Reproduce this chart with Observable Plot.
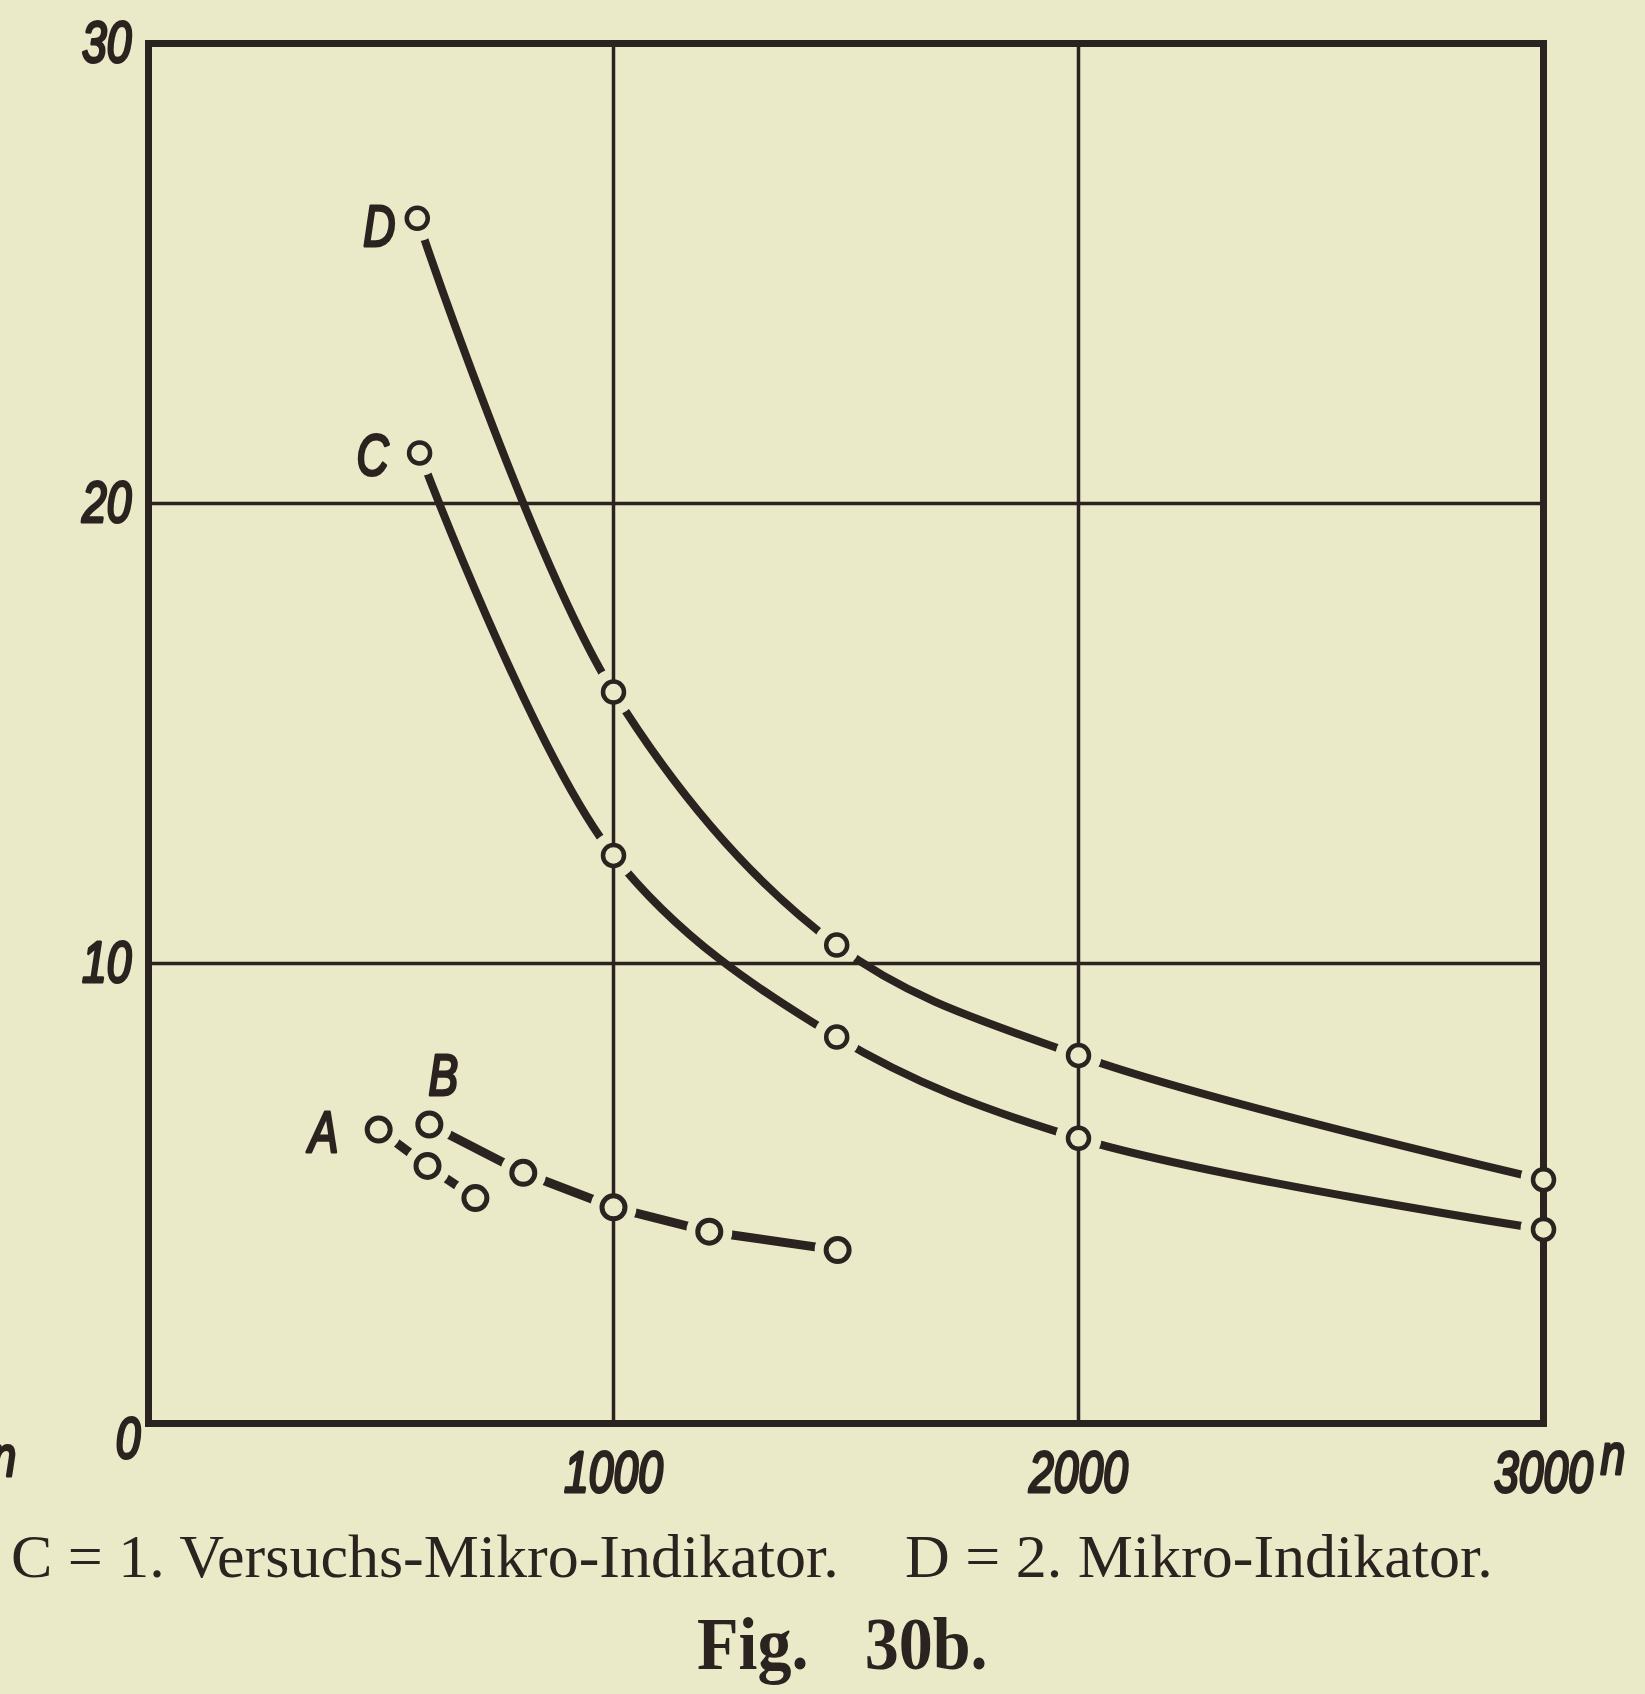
<!DOCTYPE html>
<html>
<head>
<meta charset="utf-8">
<script src="https://cdn.jsdelivr.net/npm/d3@7"></script>
<script src="https://cdn.jsdelivr.net/npm/@observablehq/plot@0.6"></script>
<style>
  html, body { margin: 0; padding: 0; background: #eae9c8; }
  #page { position: relative; width: 1645px; height: 1694px; overflow: hidden; background: #eae9c8; }
  #page svg { position: absolute; left: 0; top: 0; }
  .cap { position: absolute; font-family: "Liberation Serif", "DejaVu Serif", serif; color: #2b231f; line-height: 1; white-space: pre; }
  .cap1 { font-size: 62px; top: 1525px; }
  .cap2 { font-size: 74px; font-weight: bold; top: 1607px; left: 697px; word-spacing: 12px; transform: scaleX(0.92); transform-origin: 0 0; }
</style>
</head>
<body>
<div id="page"></div>
<script>
// Deflection against speed n for four indicators A–D
const seriesNames = ["A", "B", "C", "D"];
const nA = [495, 600, 703];
const vA = [6.39, 5.6, 4.9];
const nB = [604, 806, 1000, 1206, 1482];
const vB = [6.5, 5.45, 4.7, 4.17, 3.77];
const nC = [583, 1000, 1480, 2000, 3000];
const vC = [21.1, 12.35, 8.4, 6.2, 4.22];
const nD = [578, 1000, 1480, 2000, 3000];
const vD = [26.2, 15.9, 10.4, 8.0, 5.3];
const xTicks = [1000, 2000, 3000];
const yTicks = [10, 20, 30];
const xGrid = [1000, 2000];
const yGrid = [10, 20];
const xUnit = "n";
const captionLeft = "C = 1. Versuchs-Mikro-Indikator.";
const captionRight = "D = 2. Mikro-Indikator.";
const figTitle = "Fig.  30b.";

const ink = "#2b231f";
const paper = "#eae9c8";
const handFont = "'Liberation Sans', Arial, sans-serif";
const handSize = 57;

const table = [[nA, vA], [nB, vB], [nC, vC], [nD, vD]];
const rows = seriesNames.flatMap((s, i) =>
  table[i][0].map((n, j) => ({series: s, n, v: table[i][1][j], first: j === 0}))
);
const straight = rows.filter(d => d.series === "A" || d.series === "B");
const curved = rows.filter(d => d.series === "C" || d.series === "D");
const firstOf = s => rows.filter(d => d.first && d.series === s);

// pen-lettered labels: regular italic thickened with an outline in the same ink
const hand = {fill: ink, stroke: ink, strokeWidth: 3, fontSize: handSize, fontStyle: "italic", fontFamily: handFont};
const labelStyle = {x: "n", y: "v", text: "series", ...hand};
const axisStyle = {
  tickSize: 0, tickFormat: d => String(d), label: null,
  fill: ink, textStroke: ink, textStrokeWidth: 3,
  fontSize: handSize, fontStyle: "italic", fontFamily: handFont
};

const chart = Plot.plot({
  width: 1645,
  height: 1500,
  marginLeft: 148,
  marginRight: 102,
  marginTop: 43,
  marginBottom: 77,
  style: {background: "transparent", color: ink, overflow: "visible"},
  x: {domain: [0, 3000]},
  y: {domain: [0, 30]},
  marks: [
    // curves first, then paper halos open a gap around every reading
    Plot.line(straight, {x: "n", y: "v", z: "series", curve: "linear", stroke: ink, strokeWidth: 9, strokeLinecap: "round"}),
    Plot.line(curved, {x: "n", y: "v", z: "series", curve: "catmull-rom", stroke: ink, strokeWidth: 8, strokeLinecap: "round"}),
    Plot.dot(rows, {x: "n", y: "v", r: 23, fill: paper, stroke: "none"}),
    Plot.gridX(xGrid, {stroke: ink, strokeOpacity: 1, strokeWidth: 3.5}),
    Plot.gridY(yGrid, {stroke: ink, strokeOpacity: 1, strokeWidth: 3.5}),
    Plot.frame({stroke: ink, strokeWidth: 7}),
    Plot.dot(straight, {x: "n", y: "v", r: 11.5, fill: paper, stroke: ink, strokeWidth: 5}),
    Plot.dot(curved, {x: "n", y: "v", r: 10.5, fill: paper, stroke: ink, strokeWidth: 4.5}),
    Plot.text(firstOf("A"), {...labelStyle, dx: -55, dy: 4}),
    Plot.text(firstOf("B"), {...labelStyle, dx: 14, dy: -48}),
    Plot.text(firstOf("C"), {...labelStyle, dx: -47, dy: 4}),
    Plot.text(firstOf("D"), {...labelStyle, dx: -38, dy: 9}),
    Plot.axisX(xTicks, {...axisStyle, tickPadding: 28}),
    Plot.axisY(yTicks, {...axisStyle, tickPadding: 17}),
    Plot.axisY([0], {...axisStyle, tickPadding: 8, dy: 16}),
    Plot.text([xUnit], {frameAnchor: "bottom-right", textAnchor: "start", text: d => d, dx: 57, dy: 50, ...hand}),
    Plot.text([xUnit], {frameAnchor: "bottom-left", textAnchor: "start", text: d => d, dx: -157, dy: 52, ...hand})
  ]
});

// narrow, hand-lettered look: squeeze every chart label horizontally about its anchor
chart.querySelectorAll("text").forEach(t => {
  const tr = t.getAttribute("transform");
  if (tr) {
    t.setAttribute("transform", tr + " scale(0.78,1)");
  } else {
    const x = +t.getAttribute("x") || 0, y = +t.getAttribute("y") || 0;
    t.removeAttribute("x");
    t.removeAttribute("y");
    t.setAttribute("transform", `translate(${x},${y}) scale(0.78,1)`);
  }
});

const page = document.getElementById("page");
page.appendChild(chart);

function addCaption(text, cls, left) {
  const el = document.createElement("div");
  el.className = "cap " + cls;
  el.textContent = text;
  if (left != null) el.style.left = left + "px";
  page.appendChild(el);
}
addCaption(captionLeft, "cap1", 11);
addCaption(captionRight, "cap1", 905);
addCaption(figTitle, "cap2", null);
</script>
</body>
</html>
